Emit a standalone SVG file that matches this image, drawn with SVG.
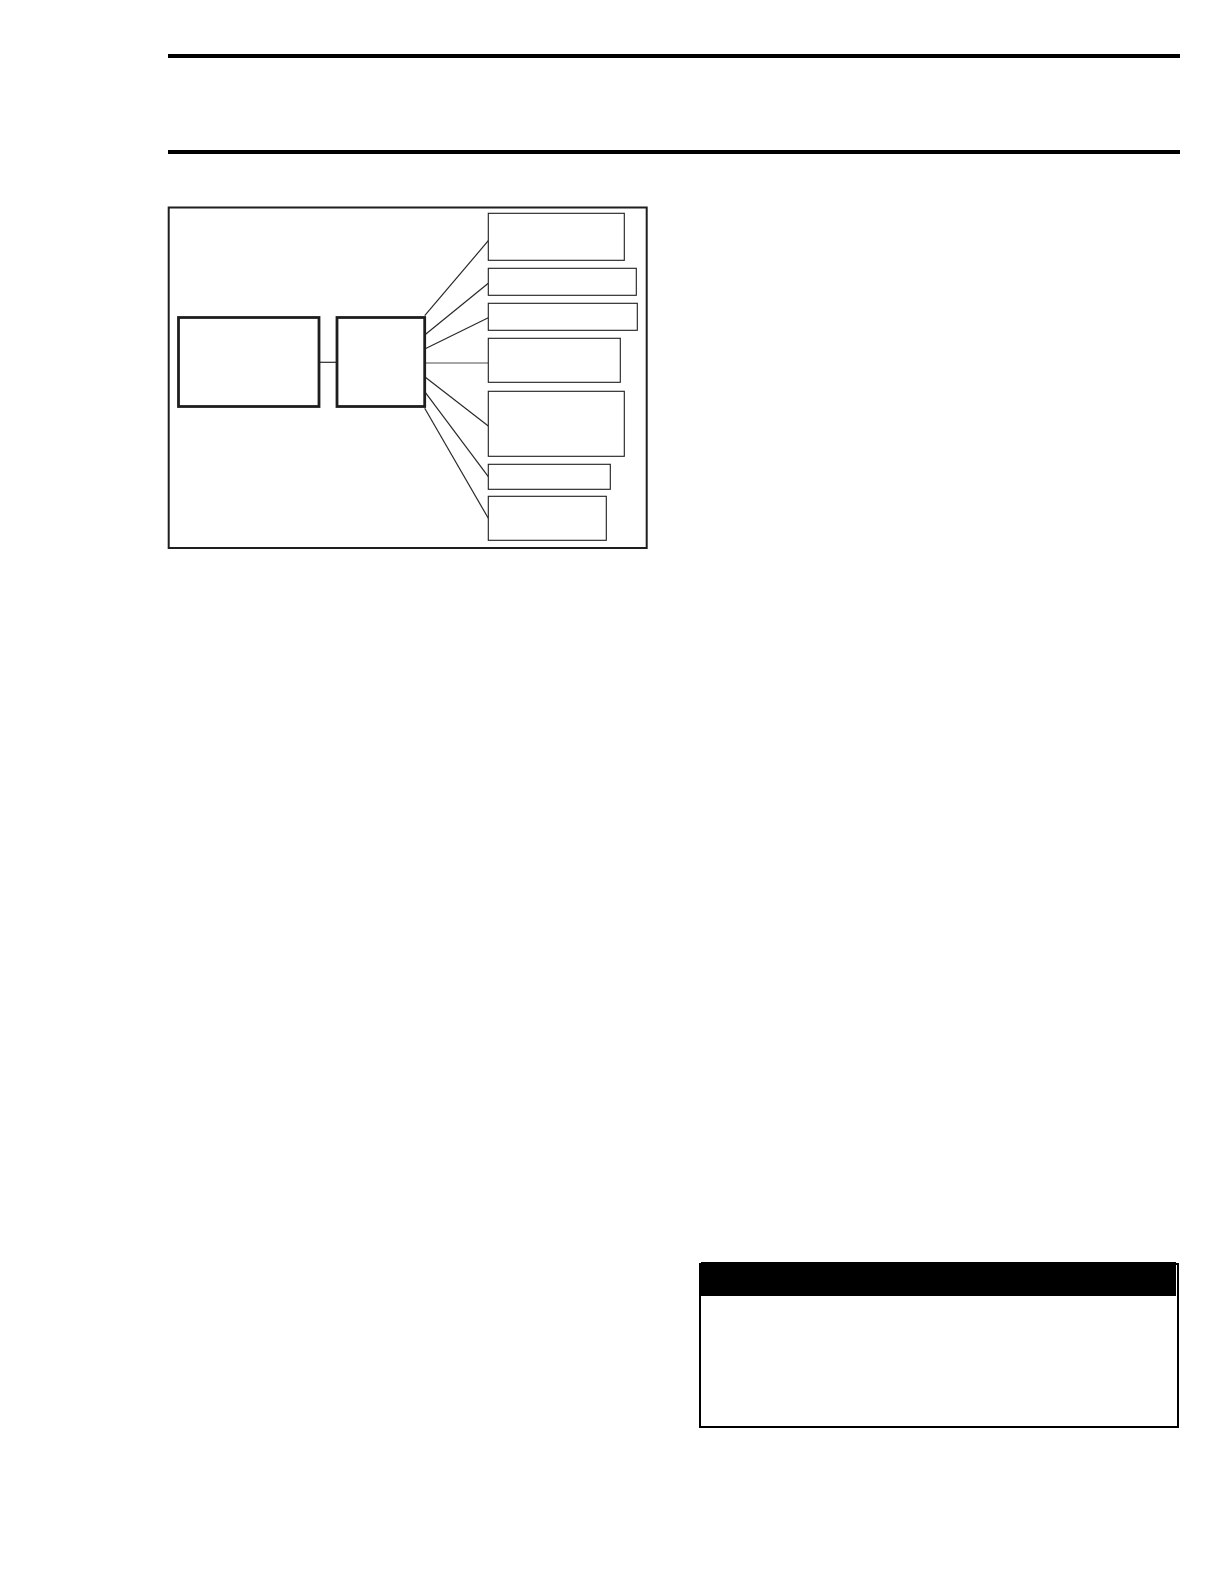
<svg xmlns="http://www.w3.org/2000/svg" width="1224" height="1584" viewBox="0 0 1224 1584">
<style>
.rule{fill:#000}
.frame{fill:#fff;stroke:#1e1e1e;stroke-width:2}
.main{fill:#fff;stroke:#1e1e1e;stroke-width:2.8}
.leaf{fill:#fff;stroke:#1e1e1e;stroke-width:1.1}
.conn{stroke:#2a2a2a;stroke-width:1.2;fill:none}
.conn.grey{stroke:#888;stroke-width:1.5}
</style>
<rect width="1224" height="1584" fill="#fff"/>
<rect class="rule" x="168" y="54" width="1012" height="4"/>
<rect class="rule" x="168" y="150" width="1012" height="4"/>
<rect id="frame" class="frame" x="168.7" y="207.5" width="478" height="340.5"/>
<g id="connectors">
<line class="conn" x1="319" y1="362.3" x2="337" y2="362.3"/>
<line class="conn" x1="424.7" y1="315.7" x2="488.3" y2="240.7"/>
<line class="conn" x1="424.7" y1="335" x2="488.3" y2="283.3"/>
<line class="conn" x1="424.7" y1="349" x2="488.3" y2="317.7"/>
<line class="conn grey" x1="424.7" y1="363" x2="488.3" y2="363"/>
<line class="conn" x1="424.7" y1="376.7" x2="488.3" y2="426"/>
<line class="conn" x1="424.7" y1="391.7" x2="488.3" y2="476.7"/>
<line class="conn" x1="424.7" y1="408.3" x2="488.3" y2="518.3"/>
</g>
<g id="node-left"><rect class="main" x="178.5" y="317.5" width="140.5" height="89"/></g>
<g id="node-mid"><rect class="main" x="337" y="317.5" width="87.7" height="89"/></g>
<g id="node-r1"><rect class="leaf" x="488.3" y="213.3" width="136" height="47"/></g>
<g id="node-r2"><rect class="leaf" x="488.3" y="268.3" width="148" height="27"/></g>
<g id="node-r3"><rect class="leaf" x="488.3" y="303.3" width="149" height="27"/></g>
<g id="node-r4"><rect class="leaf" x="488.3" y="338.3" width="132" height="44"/></g>
<g id="node-r5"><rect class="leaf" x="488.3" y="391.3" width="136" height="65"/></g>
<g id="node-r6"><rect class="leaf" x="488.3" y="464.3" width="122" height="25"/></g>
<g id="node-r7"><rect class="leaf" x="488.3" y="496.3" width="118" height="44"/></g>
<g id="note-box">
<rect x="701" y="1262" width="475" height="34" fill="#000"/>
<rect x="700" y="1264" width="478" height="163" fill="none" stroke="#000" stroke-width="2"/>
</g>
</svg>
